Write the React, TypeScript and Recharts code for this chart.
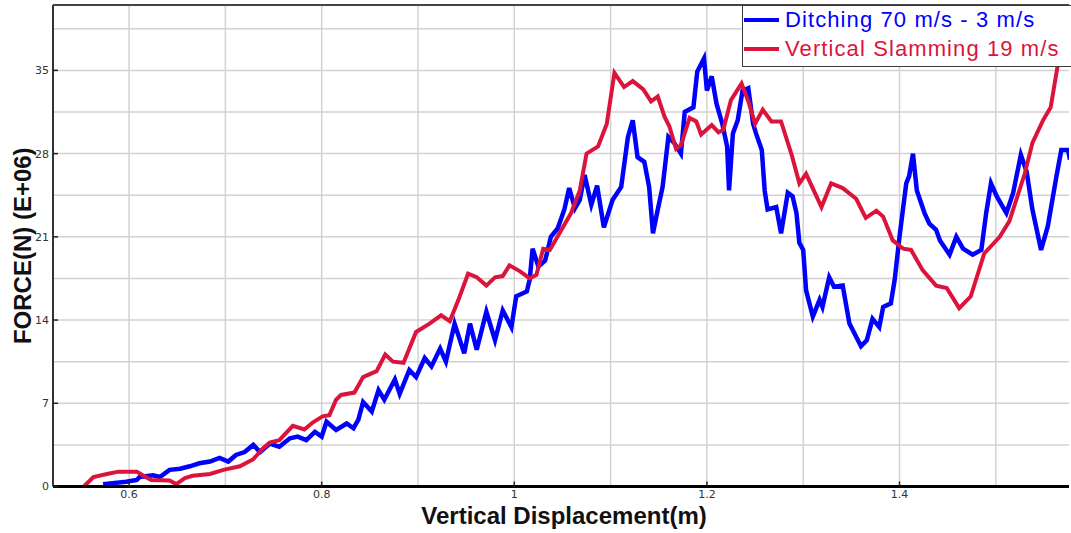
import { LineChart, Line, XAxis, YAxis, CartesianGrid, Legend, ReferenceLine } from 'recharts';

// Vertical displacement (m) vs force (E+06 N)
const ditching: [number, number][] = [
  [0.573, 0.2], [0.597, 0.4], [0.608, 0.55], [0.611, 0.8], [0.625, 0.95], [0.632, 0.8],
  [0.642, 1.4], [0.653, 1.5], [0.663, 1.7], [0.673, 1.95], [0.684, 2.1], [0.694, 2.4],
  [0.703, 2.1], [0.711, 2.65], [0.72, 2.9], [0.729, 3.5], [0.736, 2.9], [0.746, 3.6],
  [0.756, 3.35], [0.767, 4.05], [0.775, 4.2], [0.784, 3.9], [0.793, 4.6], [0.8, 4.2],
  [0.805, 5.45], [0.815, 4.75], [0.826, 5.3], [0.833, 4.9], [0.838, 5.6], [0.843, 7.1],
  [0.852, 6.3], [0.859, 8.1], [0.865, 7.3], [0.876, 9.0], [0.881, 7.8], [0.891, 9.8],
  [0.898, 9.2], [0.907, 10.8], [0.914, 10.1], [0.923, 11.6], [0.929, 10.5], [0.938, 13.7],
  [0.948, 11.2], [0.954, 13.7], [0.961, 11.5], [0.971, 14.7], [0.98, 12.3], [0.988, 14.8],
  [0.997, 13.4], [1.002, 16.0], [1.013, 16.4], [1.016, 17.4], [1.019, 20.0], [1.025, 18.5],
  [1.032, 19.0], [1.038, 21.0], [1.045, 21.7], [1.052, 23.3], [1.057, 25.1], [1.063, 23.4],
  [1.068, 24.1], [1.073, 26.2], [1.08, 23.7], [1.086, 25.3], [1.093, 21.8], [1.102, 24.1],
  [1.111, 25.2], [1.118, 29.4], [1.123, 30.8], [1.128, 27.7], [1.135, 27.3], [1.14, 25.2],
  [1.144, 21.3], [1.149, 23.3], [1.154, 25.2], [1.16, 29.4], [1.166, 28.9], [1.173, 28.0],
  [1.177, 31.5], [1.186, 31.9], [1.19, 34.9], [1.197, 36.0], [1.2, 33.3], [1.205, 34.5],
  [1.21, 32.2], [1.216, 30.5], [1.221, 28.6], [1.223, 24.9], [1.227, 29.7], [1.232, 30.8],
  [1.237, 33.3], [1.243, 33.5], [1.248, 30.5], [1.251, 29.7], [1.257, 28.3], [1.26, 24.9],
  [1.263, 23.3], [1.272, 23.5], [1.277, 21.3], [1.284, 24.7], [1.289, 24.4], [1.293, 23.0],
  [1.296, 20.5], [1.3, 19.9], [1.303, 16.5], [1.31, 14.3], [1.317, 15.7], [1.32, 15.1],
  [1.327, 17.6], [1.332, 16.8], [1.341, 16.9], [1.348, 13.7], [1.36, 11.8], [1.366, 12.3],
  [1.372, 14.1], [1.379, 13.4], [1.383, 15.1], [1.391, 15.4], [1.395, 17.4], [1.4, 21.0],
  [1.407, 25.5], [1.41, 26.1], [1.414, 28.0], [1.418, 24.9], [1.426, 23.0], [1.431, 22.1],
  [1.438, 21.6], [1.442, 20.7], [1.452, 19.5], [1.459, 21.0], [1.466, 20.0], [1.476, 19.5],
  [1.485, 19.9], [1.49, 23.0], [1.495, 25.5], [1.501, 24.4], [1.511, 23.0], [1.518, 24.7],
  [1.526, 27.9], [1.532, 26.5], [1.538, 23.3], [1.547, 19.9], [1.554, 21.9], [1.563, 26.1],
  [1.568, 28.3], [1.575, 28.3], [1.577, 27.5],
];

const slamming: [number, number][] = [
  [0.553, 0.0], [0.563, 0.8], [0.577, 1.05], [0.589, 1.25], [0.608, 1.25], [0.615, 0.9],
  [0.623, 0.55], [0.642, 0.5], [0.649, 0.2], [0.658, 0.7], [0.666, 0.9], [0.684, 1.05],
  [0.698, 1.4], [0.715, 1.7], [0.729, 2.3], [0.739, 3.2], [0.746, 3.7], [0.756, 3.9],
  [0.77, 5.1], [0.782, 4.8], [0.791, 5.4], [0.801, 5.9], [0.808, 6.0], [0.815, 7.3],
  [0.82, 7.7], [0.834, 7.9], [0.843, 9.2], [0.857, 9.7], [0.866, 11.1], [0.874, 10.5],
  [0.885, 10.4], [0.898, 13.0], [0.912, 13.7], [0.924, 14.4], [0.933, 13.9], [0.942, 15.7],
  [0.952, 17.9], [0.961, 17.6], [0.971, 16.9], [0.98, 17.6], [0.988, 17.7], [0.995, 18.6],
  [1.006, 18.1], [1.016, 17.5], [1.023, 17.8], [1.03, 20.0], [1.037, 19.9], [1.049, 21.6],
  [1.059, 23.0], [1.068, 24.9], [1.075, 28.0], [1.087, 28.6], [1.096, 30.5], [1.104, 34.8],
  [1.114, 33.6], [1.123, 34.1], [1.134, 33.4], [1.142, 32.4], [1.149, 32.8], [1.156, 31.1],
  [1.161, 30.3], [1.168, 28.4], [1.173, 28.7], [1.182, 31.0], [1.189, 30.7], [1.194, 29.6],
  [1.205, 30.4], [1.212, 29.8], [1.217, 30.0], [1.225, 32.5], [1.236, 33.9], [1.243, 32.4],
  [1.25, 30.5], [1.258, 31.7], [1.267, 30.7], [1.277, 30.7], [1.288, 27.9], [1.296, 25.5],
  [1.303, 26.3], [1.319, 23.5], [1.329, 25.5], [1.341, 25.1], [1.355, 24.2], [1.365, 22.6],
  [1.376, 23.2], [1.383, 22.7], [1.393, 20.7], [1.404, 20.0], [1.412, 19.9], [1.424, 18.2],
  [1.438, 16.9], [1.449, 16.7], [1.462, 15.0], [1.474, 16.0], [1.488, 19.6], [1.504, 21.0],
  [1.514, 22.3], [1.53, 26.3], [1.538, 28.9], [1.549, 30.8], [1.557, 31.9], [1.564, 35.3],
  [1.57, 36.2],
];

const X_TICKS = [0.6, 0.8, 1.0, 1.2, 1.4];
const X_GRID = [0.6, 0.7, 0.8, 0.9, 1.0, 1.1, 1.2, 1.3, 1.4, 1.5];
const Y_TICKS = [0, 7, 14, 21, 28, 35];
const Y_GRID = [3.5, 7, 10.5, 14, 17.5, 21, 24.5, 28, 31.5, 35, 38.5];
const X_DOMAIN: [number, number] = [0.521, 1.576];
const Y_DOMAIN: [number, number] = [0, 40.5];

const BLUE = '#0000ff';
const RED = '#dc143c';

const toPoints = (pairs: [number, number][]) => pairs.map(([x, y]) => ({ x, y }));

const tickStyle = { fontFamily: '"DejaVu Sans", sans-serif', fontSize: 11, fill: '#333' };
const titleStyle = { fontFamily: '"Liberation Sans", Arial, sans-serif', fontSize: 24, fontWeight: 'bold', fill: '#111' };

function LegendBox({ payload }: any) {
  return (
    <div style={{
      border: '1.5px solid #3a3a3a', background: '#fff', paddingBottom: 3,
      fontFamily: '"Liberation Sans", Arial, sans-serif', fontSize: 22, letterSpacing: 1.1,
    }}>
      {(payload ?? []).map((p: any) => (
        <div key={p.value} style={{ display: 'flex', alignItems: 'center', height: 28.6, color: p.color, whiteSpace: 'nowrap' }}>
          <span style={{ display: 'inline-block', width: 35, height: 4, background: p.color, marginLeft: 1, marginRight: 6 }} />
          <span>{p.value}</span>
        </div>
      ))}
    </div>
  );
}

export default function App() {
  return (
    <div style={{ position: 'absolute', left: 0, top: 0, width: 1071, height: 533, overflow: 'hidden', background: '#fff' }}>
      <LineChart width={1071} height={533} margin={{ top: 5, right: 2, bottom: 6.5, left: 5 }}>
        <CartesianGrid
          stroke="#d2d2d2"
          strokeWidth={1.5}
          verticalValues={X_GRID}
          horizontalValues={Y_GRID}
        />
        <XAxis
          type="number"
          dataKey="x"
          domain={X_DOMAIN}
          allowDataOverflow
          ticks={X_TICKS}
          interval={0}
          tickFormatter={(v: number) => String(Number(v.toFixed(1)))}
          tick={tickStyle}
          tickSize={-5}
          tickMargin={8.5}
          tickLine={{ stroke: '#222', strokeWidth: 1.5 }}
          axisLine={{ stroke: '#000', strokeWidth: 3 }}
          height={40}
          label={{ value: 'Vertical Displacement(m)', position: 'insideBottom', offset: 2.7, dx: 3, style: titleStyle }}
        />
        <YAxis
          type="number"
          domain={Y_DOMAIN}
          allowDataOverflow
          ticks={Y_TICKS}
          interval={0}
          tick={tickStyle}
          tickSize={-5}
          tickMargin={9}
          tickLine={{ stroke: '#222', strokeWidth: 1.5 }}
          axisLine={{ stroke: '#333', strokeWidth: 2 }}
          width={48}
          label={{ value: 'FORCE(N) (E+06)', angle: -90, position: 'center', dx: -7, style: titleStyle }}
        />
        <ReferenceLine y={Y_DOMAIN[1]} stroke="#444" strokeWidth={2} />
        <Line
          data={toPoints(ditching)}
          dataKey="y"
          name="Ditching 70 m/s - 3 m/s"
          type="linear"
          stroke={BLUE}
          strokeWidth={4.5}
          dot={false}
          isAnimationActive={false}
        />
        <Line
          data={toPoints(slamming)}
          dataKey="y"
          name="Vertical Slamming 19 m/s"
          type="linear"
          stroke={RED}
          strokeWidth={4}
          dot={false}
          isAnimationActive={false}
        />
        <Legend
          layout="vertical"
          align="center"
          verticalAlign="middle"
          wrapperStyle={{ left: 742, top: 5, width: 340 }}
          content={LegendBox}
        />
      </LineChart>
    </div>
  );
}
